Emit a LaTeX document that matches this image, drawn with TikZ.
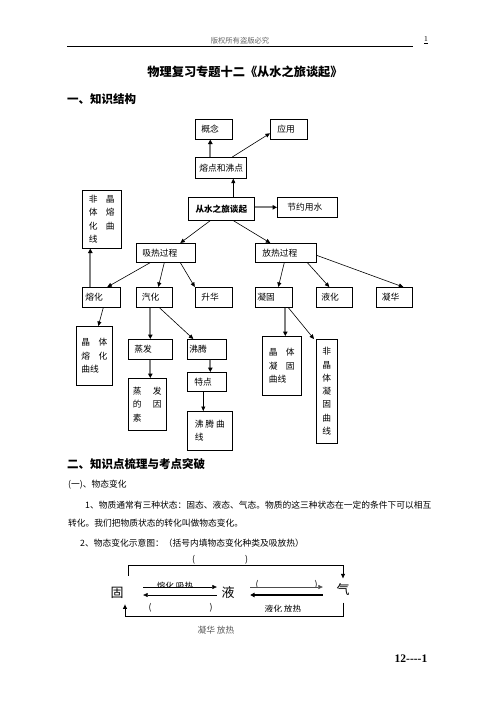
\documentclass[tikz,border=0pt]{standalone}
\usepackage{fontspec}
\setmainfont{Liberation Serif}
\newfontfamily\cjk{Noto Sans CJK SC}
\usetikzlibrary{arrows.meta,calc}
\begin{document}
\begin{tikzpicture}[x=1pt,y=-1pt,
  box/.style={draw, line width=0.6pt, anchor=north west, inner ysep=0pt, align=left,
    font=\cjk\fontsize{8.75}{13.5}\selectfont},
  thin/.style={draw=black, line width=0.6pt, -{Triangle[length=4.5pt,width=4pt]}},
  thk/.style={draw=black!50, line width=2pt, -{Triangle[color=black,length=4.5pt,width=4.5pt]}},
  txt/.style={inner sep=0pt, anchor=west, font=\cjk\fontsize{8.75}{13}\selectfont},
  big/.style={inner sep=0pt, font=\cjk\fontsize{13}{13}\selectfont},
]
\useasboundingbox[fill=white] (0,0) rectangle (496,702);

% header
\node[inner sep=0pt, text=black!60, font=\cjk\fontsize{7.3}{8}\selectfont] (hdr) at (240,41) {版权所有盗版必究};
\node[inner sep=0pt, font=\fontsize{7.5}{8}\selectfont] (pg) at (426,40) {\underline{1}};
\coordinate (hl) at (67,46);
\coordinate (hr) at (413,46);
\draw[line width=0.8pt] (hl) -- (hr);

% title and heading
\node[inner sep=0pt, font=\cjk\bfseries\fontsize{12.2}{13}\selectfont] (title) at (245,72) {物理复习专题十二《从水之旅谈起》};
\node[inner sep=0pt, anchor=west, font=\cjk\bfseries\fontsize{11.5}{12}\selectfont] (h1) at (67,99) {一、知识结构};

% boxes
\node[box, text width=25pt, inner xsep=6pt, minimum height=20pt] (gn) at (195,119) {概念};
\node[box, text width=23pt, inner xsep=7pt, minimum height=20pt] (yy) at (270,119) {应用};
\node[box, text width=43pt, inner xsep=4pt, minimum height=21pt] (rd) at (195,157) {熔点和沸点};
\node[box, text width=56pt, inner xsep=5pt, minimum height=23pt, align=center, font=\cjk\bfseries\fontsize{8.6}{10}\selectfont] (root) at (188,197) {从水之旅谈起};
\node[box, text width=40pt, inner xsep=10pt, minimum height=20pt] (jy) at (277,197) {节约用水};
\node[box, text width=25.8pt, inner xsep=6.6pt, minimum height=58pt] (fjr) at (82,190) {非\hfill 晶\\体\hfill 熔\\化\hfill 曲\\线};
\node[box, text width=47pt, inner xsep=6pt, minimum height=19pt] (xr) at (136,243) {吸热过程};
\node[box, text width=47pt, inner xsep=7pt, minimum height=19pt] (fr) at (255,243) {放热过程};
\node[box, text width=32pt, inner xsep=3pt, minimum height=20pt] (rh) at (82,287) {熔化};
\node[box, text width=25pt, inner xsep=5.5pt, minimum height=20pt] (qh) at (136,287) {汽化};
\node[box, text width=25pt, inner xsep=6pt, minimum height=20pt] (sh) at (195,287) {升华};
\node[box, text width=33pt, inner xsep=2pt, minimum height=20pt] (ng) at (255,287) {凝固};
\node[box, text width=26pt, inner xsep=5pt, minimum height=20pt] (yh) at (316,287) {液化};
\node[box, text width=25pt, inner xsep=5.5pt, minimum height=20pt] (nh) at (376,287) {凝华};
\node[box, text width=26pt, inner xsep=5pt, minimum height=59pt] (jrq) at (76,326) {晶\hfill 体\\熔\hfill 化\\曲线\\[6pt]};
\node[box, text width=32pt, inner xsep=6pt, minimum height=20pt] (zf) at (128,339) {蒸发};
\node[box, text width=35pt, inner xsep=2pt, minimum height=20pt] (ft) at (187,339) {沸腾};
\node[box, text width=28.8pt, inner xsep=4.6pt, minimum height=52pt] (zfy) at (128,378) {蒸\hfill 发\\的\hfill 因\\素};
\node[box, text width=25pt, inner xsep=7pt, minimum height=19pt] (td) at (187,372) {特点};
\node[box, text width=30pt, inner xsep=7.5pt, minimum height=39pt] (ftq) at (187,411) {沸\hfill 腾\hfill 曲\\线\\[3pt]};
\node[box, text width=25.8pt, inner xsep=6.6pt, minimum height=59pt] (jnq) at (262,336) {晶\hfill 体\\凝\hfill 固\\曲线\\[5pt]};
\node[box, text width=11pt, inner xsep=5pt, minimum height=104pt, align=center, font=\cjk\fontsize{8.75}{13.3}\selectfont] (fjn) at (316,339) {非\\晶\\体\\凝\\固\\曲\\线};

% connectors
\draw[thin] ([xshift=12pt]root.north) -- ([xshift=12pt]root.north |- rd.south);
\draw[thk] ([xshift=-3.5pt]gn.south |- rd.north) -- ([xshift=-3.5pt]gn.south);
\draw[thin] ([xshift=11.5pt]rd.north) -- ([yshift=-4pt]yy.west);
\draw[thk] (jy.west -| root.east) -- (jy.west);
\draw[thin] ([xshift=-11pt]root.south) -- ([xshift=14.5pt]xr.north);
\draw[thin] ([xshift=12pt]root.south) -- ([xshift=-15.5pt]fr.north);
\draw[thin] ([xshift=-15.5pt]xr.south) -- ([xshift=6pt]rh.north);
\draw[thin] ([xshift=-1.5pt]xr.south) -- ([xshift=4pt]qh.north);
\draw[thin] ([xshift=14.5pt]xr.south) -- ([xshift=-19pt]sh.north);
\draw[thin] ([xshift=-1.5pt]fr.south) -- ([xshift=4.5pt]ng.north);
\draw[thin] ([xshift=21.5pt]fr.south) -- ([xshift=-5pt]yh.north);
\draw[thin] ([yshift=-2.5pt]fr.east) -- ([xshift=9pt]nh.north);
\draw[thk] ([xshift=-11pt]rh.north) -- ([xshift=-11pt]rh.north |- fjr.south);
\draw[thin] ([xshift=2pt]rh.south) -- ([xshift=4pt]jrq.north);
\draw[thk] (zf.north |- qh.south) -- (zf.north);
\draw[thin] ([xshift=5pt]qh.south) -- ([xshift=-13.5pt]ft.north);
\draw[thk] (zf.south) -- (zf.south |- zfy.north);
\draw[thk] ([xshift=3.5pt]ft.south) -- ([xshift=3.5pt]ft.south |- td.north);
\draw[thin] ([xshift=-3.5pt]td.south) -- ([xshift=-3.5pt]td.south |- ftq.north);
\draw[thk] ([xshift=11.5pt]ng.south) -- ([xshift=11.5pt]ng.south |- jnq.north);
\draw[thin] ([xshift=14.5pt]ng.south) -- ([xshift=-2pt]fjn.north west);

% section 2
\node[inner sep=0pt, anchor=west, font=\cjk\bfseries\fontsize{11.5}{12}\selectfont] (h2) at (67,464) {二、知识点梳理与考点突破};
\node[txt] (p0) at (68,485) {(一)、物态变化};
\node[txt] (p1) at (85,505) {1、物质通常有三种状态：固态、液态、气态。物质的这三种状态在一定的条件下可以相互};
\node[txt] (p2) at (68,523) {转化。我们把物质状态的转化叫做物态变化。};
\node[txt] (p3) at (80,543) {2、物态变化示意图：（括号内填物态变化种类及吸放热）};

% state diagram
\node[big] (gu) at (117,593) {固};
\node[big] (ye) at (228,593) {液};
\node[big] (qi) at (343,590) {气};

\node[txt, anchor=center] (b1) at (220,560) {(\hspace{50pt})};
\begin{scope}
\clip (140,574) rectangle (215,587.5);
\node[txt, anchor=center] (l1) at (175,586) {熔化 吸热};
\end{scope}
\node[txt, anchor=center] (b2) at (180.5,608) {(\hspace{58pt})};
\begin{scope}
\clip (240,574) rectangle (330,587);
\node[txt, anchor=center] (b3) at (286.5,585) {(\hspace{56pt})};
\end{scope}
\begin{scope}
\clip (250,598) rectangle (320,611);
\node[txt, anchor=center] (l2) at (283,609.5) {液化 放热};
\end{scope}
\node[txt, anchor=center, text=black!65] (l3) at (216,630) {凝华 放热};

\draw[thin] ([xshift=19.5pt,yshift=6pt]gu.east) -- ([xshift=-4.5pt,yshift=6pt]ye.west);
\draw[thin] ([xshift=-4.5pt,yshift=-2pt]ye.west) -- ([xshift=19.5pt,yshift=-2pt]gu.east);
\draw[thin, draw=black!70] ([xshift=15.5pt,yshift=6pt]ye.east) -- ([xshift=-13.5pt,yshift=3pt]qi.west);
\draw[thin, line width=1.2pt, -{Triangle[length=4.5pt,width=4.5pt]}] ([xshift=-13.5pt,yshift=-5pt]qi.west) -- ([xshift=15.5pt,yshift=-2pt]ye.east);
\draw[thin] ([xshift=11pt,yshift=11.5pt]gu.north) -- ++(0,-10) -| ([yshift=5.5pt]qi.north);
\draw[thin, line width=0.9pt] ([yshift=-6.5pt]qi.south) -- ++(0,14) -| ([xshift=8pt,yshift=-5.5pt]gu.south);

% footer
\node[inner sep=0pt, font=\bfseries\fontsize{11.5}{12}\selectfont] (ft1) at (411,659) {12-{}-{}-{}-1};
\end{tikzpicture}
\end{document}
